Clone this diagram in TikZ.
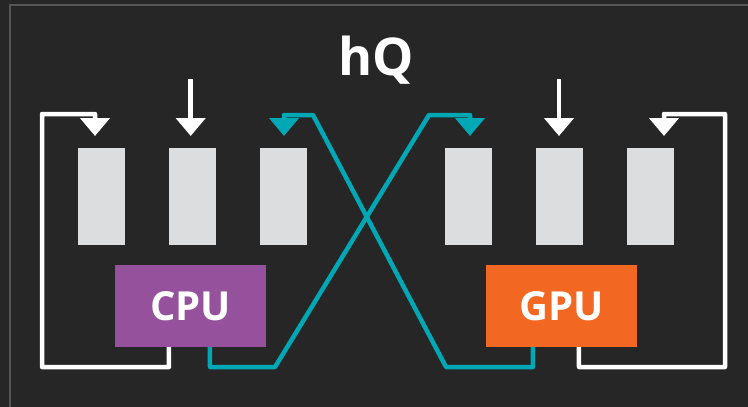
\documentclass[tikz,border=0pt]{standalone}
\usepackage{fontspec}
\setmainfont{Open Sans}
\usetikzlibrary{arrows.meta,calc}
\definecolor{bg}{HTML}{262626}
\definecolor{frame}{HTML}{555555}
\definecolor{slot}{HTML}{DCDDDF}
\definecolor{cpucol}{HTML}{96519D}
\definecolor{gpucol}{HTML}{F26722}
\definecolor{teal}{HTML}{00A7B5}
\tikzset{
  slotbox/.style={fill=slot, draw=none, minimum width=47pt, minimum height=97pt, inner sep=0pt},
  unitbox/.style={draw=none, minimum width=151pt, minimum height=82pt, inner sep=0pt,
                  text=white, font=\fontsize{40}{44}\selectfont\bfseries},
  flow/.style={line width=4.5pt, line join=round, -{Triangle[width=29pt,length=18pt]}},
  wflow/.style={flow, draw=white},
  tflow/.style={flow, draw=teal},
}
\begin{document}
\begin{tikzpicture}[x=1pt, y=-1pt]
  \fill[bg] (0,0) rectangle (748,407);
  \useasboundingbox (0,0) rectangle (748,407);
  % slide frame edges
  \draw[frame, line width=1.5pt] (10,407) -- (10,5) -- (748,5);

  % title
  \node[text=white, font=\fontsize{52}{56}\selectfont\bfseries] (title) at (376,60) {hQ};

  % queue slots
  \node[slotbox] (s1) at (101.5,196.5) {};
  \node[slotbox] (s2) at (192.5,196.5) {};
  \node[slotbox] (s3) at (283.5,196.5) {};
  \node[slotbox] (s4) at (468.5,196.5) {};
  \node[slotbox] (s5) at (559.5,196.5) {};
  \node[slotbox] (s6) at (650.5,196.5) {};

  % processors
  \node[unitbox, fill=cpucol] (cpu) at (190.5,306) {CPU};
  \node[unitbox, fill=gpucol] (gpu) at (561.5,306) {GPU};

  % arrow tips above the slots
  \coordinate (t1) at (95,136);
  \coordinate (t2) at (190.7,136);
  \coordinate (t3) at (284,136);
  \coordinate (t4) at (470,136);
  \coordinate (t5) at (559,136);
  \coordinate (t6) at (664,136);
  \coordinate (in2) at (190.7,79);
  \coordinate (in5) at (559,79);

  % external inputs
  \draw[wflow] (in2) -- (t2);
  \draw[wflow] (in5) -- (t5);

  % CPU loops back to its own queue
  \draw[wflow] ($(cpu.south west)+(54,0)$) -- (169,367) -- (42,367) -- (42,114) -- (95,114) -- (t1);
  % CPU feeds the GPU queue
  \draw[tflow] ($(cpu.south west)+(95,0)$) -- (210,367) -- (275,367) -- (429,115) -- (470,115) -- (t4);
  % GPU feeds the CPU queue
  \draw[tflow] ($(gpu.south west)+(47,0)$) -- (533,367) -- (446,367) -- (313,115) -- (284,115) -- (t3);
  % GPU loops back to its own queue
  \draw[wflow] ($(gpu.south west)+(93,0)$) -- (579,367) -- (725,367) -- (725,114) -- (664,114) -- (t6);
\end{tikzpicture}
\end{document}
